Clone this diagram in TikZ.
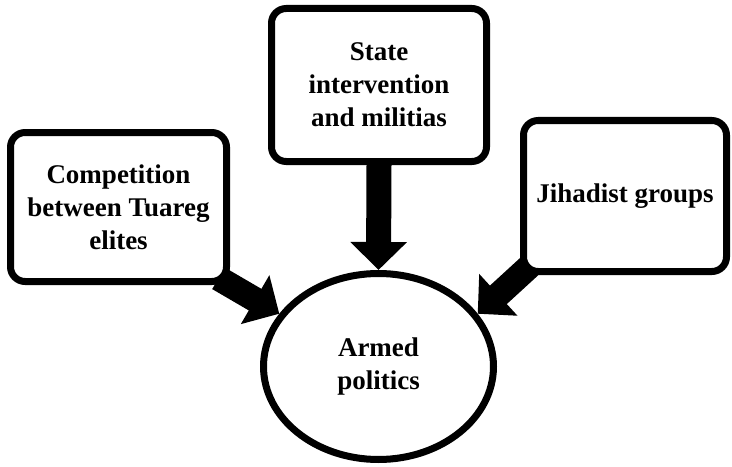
\documentclass[tikz,border=0pt]{standalone}
\usepackage{fontspec}
\setmainfont{Liberation Serif}
\usetikzlibrary{arrows.meta,shapes.geometric,backgrounds}

\begin{document}
\begin{tikzpicture}[x=0.75pt,y=-0.75pt,
                    font=\fontsize{20.25}{24.75}\selectfont\bfseries]
  \tikzstyle{factor}=[rectangle,draw=black,fill=white,line width=5.25pt,
                      rounded corners=11pt,align=center]
  \tikzstyle{outcome}=[ellipse,draw=black,fill=white,line width=5.25pt,align=center]
  \tikzstyle{push}=[line width=18.75pt,-{Triangle[width=41.25pt,length=21pt]},
                    shorten <=-10pt]

  \useasboundingbox (0,0) rectangle (732,467);

  \node[factor,minimum width=162pt,minimum height=111.75pt] (comp) at (118.5,207)
        {Competition\\between Tuareg\\elites};
  \node[factor,minimum width=161.25pt,minimum height=114.75pt] (state) at (379,85)
        {State\\intervention\\and militias};
  \node[factor,minimum width=152.25pt,minimum height=113.25pt] (jihad) at (625,196)
        {Jihadist groups};
  \node[outcome,minimum width=172.5pt,minimum height=139.5pt] (armed) at (378.5,366.5)
        {Armed\\politics};

  \begin{pgfonlayer}{background}
  \path[push]
(comp.south east) edge (armed.152)
(state.south) edge (armed.north)
(jihad.south west) edge (armed.28)
;
  \end{pgfonlayer}

\end{tikzpicture}
\end{document}
